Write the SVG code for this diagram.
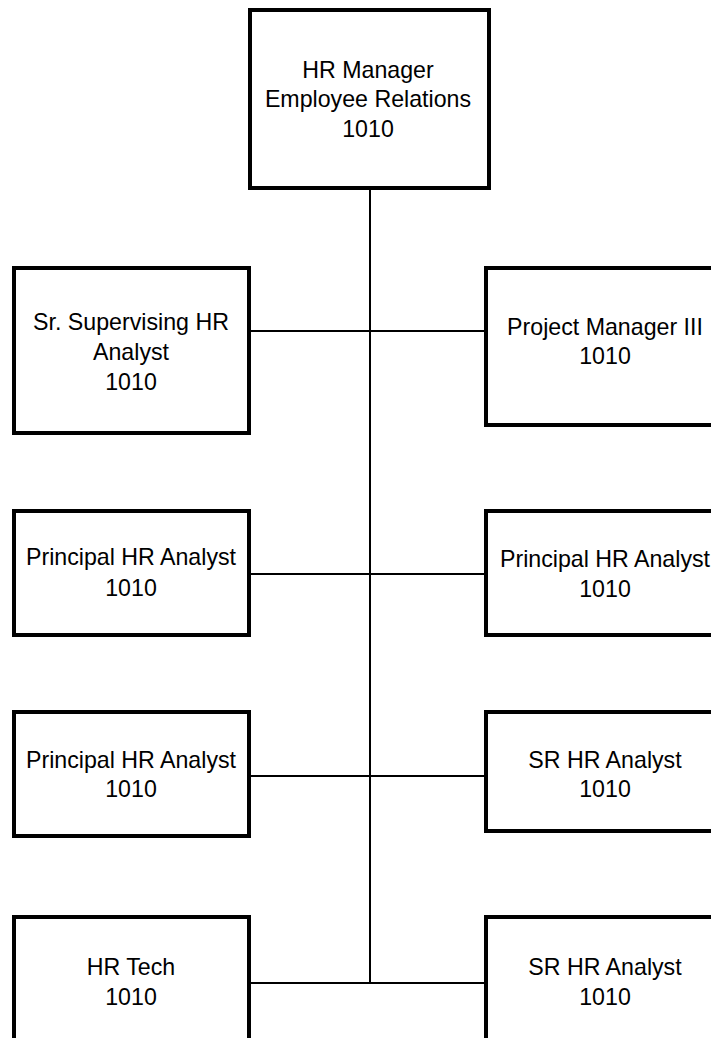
<svg xmlns="http://www.w3.org/2000/svg" width="711" height="1038" viewBox="0 0 711 1038">
<style>
.box{fill:#fff;stroke:#000;stroke-width:4}
.t{font-family:"Liberation Sans",Arial,sans-serif;font-size:23.2px;fill:#000;text-anchor:middle}
.c{stroke:#000;stroke-width:2;fill:none}
</style>
<rect width="711" height="1038" fill="#fff"/>
<g id="connectors">
<line class="c" x1="370" y1="188" x2="370" y2="983"/>
<line class="c" x1="251" y1="331" x2="485" y2="331"/>
<line class="c" x1="251" y1="574" x2="485" y2="574"/>
<line class="c" x1="251" y1="776" x2="485" y2="776"/>
<line class="c" x1="251" y1="983" x2="485" y2="983"/>
</g>
<g id="n-hr-manager">
<rect class="box" x="250" y="10" width="239" height="178"/>
<text class="t" x="368" y="78">HR Manager</text>
<text class="t" x="368" y="107">Employee Relations</text>
<text class="t" x="368" y="137">1010</text>
</g>
<g id="n-sr-supervising">
<rect class="box" x="14" y="268" width="235" height="165"/>
<text class="t" x="131" y="330">Sr. Supervising HR</text>
<text class="t" x="131" y="360">Analyst</text>
<text class="t" x="131" y="390">1010</text>
</g>
<g id="n-project-manager">
<rect class="box" x="486" y="268" width="235" height="157"/>
<text class="t" x="605" y="335">Project Manager III</text>
<text class="t" x="605" y="364">1010</text>
</g>
<g id="n-principal-1">
<rect class="box" x="14" y="511" width="235" height="124"/>
<text class="t" x="131" y="565">Principal HR Analyst</text>
<text class="t" x="131" y="596">1010</text>
</g>
<g id="n-principal-2">
<rect class="box" x="486" y="511" width="235" height="124"/>
<text class="t" x="605" y="567">Principal HR Analyst</text>
<text class="t" x="605" y="597">1010</text>
</g>
<g id="n-principal-3">
<rect class="box" x="14" y="712" width="235" height="124"/>
<text class="t" x="131" y="768">Principal HR Analyst</text>
<text class="t" x="131" y="797">1010</text>
</g>
<g id="n-sr-hr-analyst-1">
<rect class="box" x="486" y="712" width="235" height="119"/>
<text class="t" x="605" y="768">SR HR Analyst</text>
<text class="t" x="605" y="797">1010</text>
</g>
<g id="n-hr-tech">
<rect class="box" x="14" y="917" width="235" height="200"/>
<text class="t" x="131" y="975">HR Tech</text>
<text class="t" x="131" y="1005">1010</text>
</g>
<g id="n-sr-hr-analyst-2">
<rect class="box" x="486" y="917" width="235" height="200"/>
<text class="t" x="605" y="975">SR HR Analyst</text>
<text class="t" x="605" y="1005">1010</text>
</g>
</svg>
